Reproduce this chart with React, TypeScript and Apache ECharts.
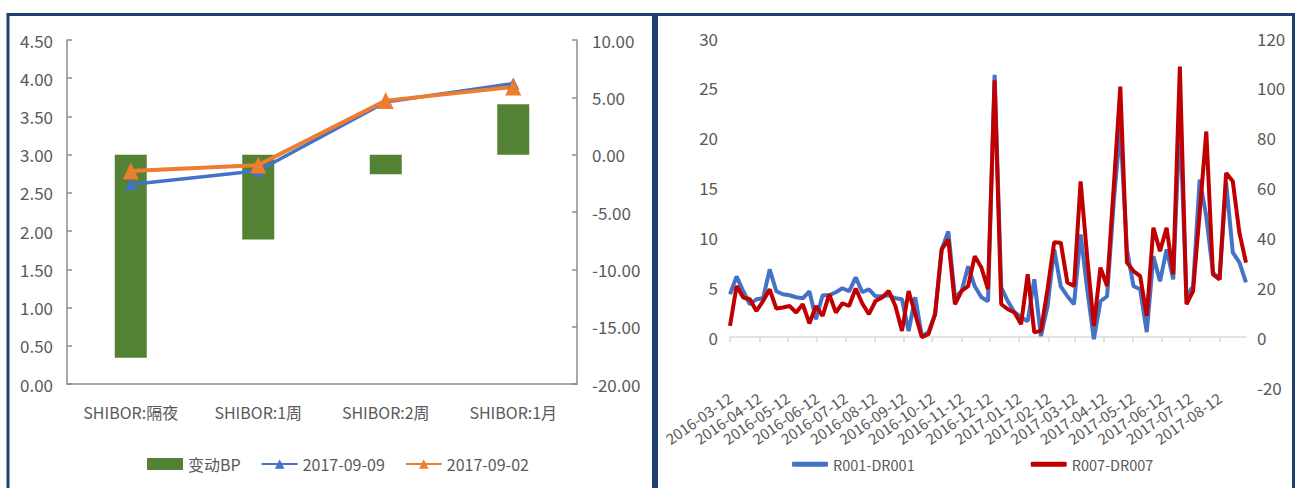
import React, { useEffect, useRef } from 'react';
import * as echarts from 'echarts';

// Left panel: SHIBOR term rates on two dates and the weekly change in BP
const shiborTerms = ['SHIBOR:隔夜', 'SHIBOR:1周', 'SHIBOR:2周', 'SHIBOR:1月'];
const rate0909 = [2.61, 2.79, 3.69, 3.93];
const rate0902 = [2.787, 2.864, 3.707, 3.886];
const changeBP = [-17.7, -7.4, -1.7, 4.4];

// Right panel: weekly repo spreads (bp), first observation on 2016-03-12
const firstWeek = '2016-03-12';
const monthTicks = [
  '2016-03-12', '2016-04-12', '2016-05-12', '2016-06-12', '2016-07-12', '2016-08-12',
  '2016-09-12', '2016-10-12', '2016-11-12', '2016-12-12', '2017-01-12', '2017-02-12',
  '2017-03-12', '2017-04-12', '2017-05-12', '2017-06-12', '2017-07-12', '2017-08-12',
];
const r001 = [
  4.3, 6.1, 4.6, 3.3, 3.8, 3.9, 6.8, 4.6, 4.3, 4.2,
  4.0, 3.9, 4.6, 1.8, 4.2, 4.2, 4.5, 4.9, 4.6, 6.0,
  4.5, 4.8, 4.1, 4.1, 4.2, 3.9, 3.8, 0.6, 4.0, 0.1,
  0.5, 2.3, 8.8, 10.6, 4.0, 4.6, 7.1, 5.1, 4.0, 3.6,
  26.3, 5.0, 3.6, 2.5, 2.0, 1.6, 5.8, 0.1, 3.1, 8.8,
  5.1, 4.1, 3.3, 10.3, 4.8, -0.2, 3.6, 4.1, 13.5, 21.0,
  8.8, 5.1, 4.8, 0.5, 8.1, 5.6, 8.8, 5.8, 22.0, 4.1,
  5.1, 15.8, 12.1, 6.5, 5.8, 15.5, 8.5, 7.5, 5.5,
];
const r007 = [
  4.5, 20.5, 15.9, 15.2, 10.5, 14.5, 19.2, 11.5, 11.9, 12.5,
  9.9, 13.2, 5.5, 12.5, 8.5, 17.2, 9.9, 13.6, 12.5, 19.5,
  13.5, 9.2, 14.5, 15.9, 18.5, 12.5, 2.5, 18.5, 9.2, 0.0,
  1.2, 9.2, 35.2, 39.2, 13.2, 18.5, 20.5, 32.5, 27.9, 19.2,
  103, 13.2, 11.2, 9.9, 5.2, 25.2, 1.9, 2.5, 19.2, 38.1,
  37.9, 21.9, 20.5, 62.5, 32, 4.5, 27.9, 20.5, 60, 100.5,
  29.9, 26.5, 24.5, 8.5, 43.9, 34.5, 43.9, 25.2, 108.5, 13.2,
  18.5, 50, 82.5, 25.2, 23.2, 65.9, 62.5, 41.9, 29.9,
];

// The date axis is measured in days since the first observation
const DAY = 86400000;
const toTs = (s: string) => {
  const [y, m, d] = s.split('-').map(Number);
  return Date.UTC(y, m - 1, d);
};
const t0 = toTs(firstWeek);
const pad = (n: number) => (n < 10 ? '0' + n : '' + n);
const dayLabel = (day: number) => {
  const d = new Date(t0 + Math.round(day) * DAY);
  return d.getUTCFullYear() + '-' + pad(d.getUTCMonth() + 1) + '-' + pad(d.getUTCDate());
};
const weekDays = r001.map((_, i) => i * 7);
const monthDays = monthTicks.map((s) => Math.round((toTs(s) - t0) / DAY));

const FONT = "'Noto Sans CJK SC', 'Noto Sans', sans-serif";
const LABEL = '#595959';
const FRAME = '#1f3f6e';

export default function App() {
  const ref = useRef<HTMLDivElement>(null);

  useEffect(() => {
    if (!ref.current) return;
    const chart = echarts.init(ref.current, undefined, { renderer: 'svg' });
    const axisGray = { color: '#8c8c8c', width: 1.5 };
    const labelStyle = { color: LABEL, fontSize: 16, fontFamily: FONT };

    chart.setOption({
      animation: false,
      backgroundColor: '#ffffff',
      textStyle: { fontFamily: FONT },
      graphic: [
        {
          type: 'rect', silent: true, z: 100,
          shape: { x: 8, y: 14.5, width: 645.5, height: 490 },
          style: { fill: 'none', stroke: FRAME, lineWidth: 3 },
        },
        {
          type: 'rect', silent: true, z: 100,
          shape: { x: 656.5, y: 14.5, width: 637, height: 490 },
          style: { fill: 'none', stroke: FRAME, lineWidth: 3 },
        },
      ],
      legend: [
        {
          left: 142, top: 451,
          itemWidth: 36, itemHeight: 12, itemGap: 20,
          textStyle: { ...labelStyle, fontSize: 16 },
          data: [
            { name: '变动BP', icon: 'rect' },
            { name: '2017-09-09' },
            { name: '2017-09-02' },
          ],
        },
        {
          left: 787, top: 452,
          itemWidth: 36, itemHeight: 5, itemGap: 116,
          textStyle: { ...labelStyle, fontSize: 14.5 },
          data: [
            { name: 'R001-DR001', icon: 'roundRect' },
            { name: 'R007-DR007', icon: 'roundRect' },
          ],
        },
      ],
      grid: [
        { left: 67, top: 40, width: 510, height: 344 },
        { left: 730, top: 38, width: 516, height: 349 },
      ],
      xAxis: [
        {
          type: 'category', gridIndex: 0, data: shiborTerms,
          axisLine: { lineStyle: axisGray },
          axisTick: { inside: true, length: 5, lineStyle: axisGray },
          axisLabel: { ...labelStyle, fontSize: 16, margin: 20 },
        },
        {
          type: 'value', gridIndex: 1,
          min: 0, max: weekDays[weekDays.length - 1],
          axisLine: { onZero: true, lineStyle: { color: '#d9d9d9', width: 1.5 } },
          axisTick: { show: true, customValues: monthDays, length: 5, lineStyle: { color: '#d9d9d9', width: 1.5 } },
          axisLabel: {
            customValues: monthDays, rotate: 35, margin: 9,
            hideOverlap: false, showMinLabel: true, showMaxLabel: true,
            ...labelStyle, fontSize: 15,
            formatter: (v: number) => dayLabel(v),
          },
          splitLine: { show: false },
        },
      ],
      yAxis: [
        {
          type: 'value', gridIndex: 0, min: 0, max: 4.5, interval: 0.5,
          axisLine: { show: true, lineStyle: axisGray },
          axisTick: { show: true, inside: true, length: 5, lineStyle: axisGray },
          axisLabel: { ...labelStyle, fontSize: 17, margin: 14, formatter: (v: number) => v.toFixed(2) },
          splitLine: { show: false },
        },
        {
          type: 'value', gridIndex: 0, position: 'right', min: -20, max: 10, interval: 5,
          axisLine: { show: true, lineStyle: axisGray },
          axisTick: { show: true, inside: true, length: 5, lineStyle: axisGray },
          axisLabel: { ...labelStyle, fontSize: 17, margin: 15, formatter: (v: number) => v.toFixed(2) },
          splitLine: { show: false },
        },
        {
          type: 'value', gridIndex: 1, min: -5, max: 30, interval: 5,
          axisLine: { show: false }, axisTick: { show: false },
          axisLabel: { ...labelStyle, fontSize: 17, margin: 12, formatter: (v: number) => (v < 0 ? '' : String(v)) },
          splitLine: { show: false },
        },
        {
          type: 'value', gridIndex: 1, position: 'right', min: -20, max: 120, interval: 20,
          axisLine: { show: false }, axisTick: { show: false },
          axisLabel: { ...labelStyle, fontSize: 17, margin: 11 },
          splitLine: { show: false },
        },
      ],
      series: [
        {
          name: '变动BP', type: 'bar', xAxisIndex: 0, yAxisIndex: 1,
          data: changeBP, barWidth: 32,
          itemStyle: { color: '#548235' },
        },
        {
          name: '2017-09-09', type: 'line', xAxisIndex: 0, yAxisIndex: 0,
          data: rate0909, symbol: 'triangle', symbolSize: [12, 12],
          lineStyle: { color: '#4472c4', width: 3.5 },
          itemStyle: { color: '#4472c4' },
        },
        {
          name: '2017-09-02', type: 'line', xAxisIndex: 0, yAxisIndex: 0,
          data: rate0902, symbol: 'triangle', symbolSize: [16, 17],
          lineStyle: { color: '#ed7d31', width: 4 },
          itemStyle: { color: '#ed7d31' },
        },
        {
          name: 'R001-DR001', type: 'line', xAxisIndex: 1, yAxisIndex: 2,
          data: weekDays.map((d, i) => [d, r001[i]]),
          symbol: 'none',
          lineStyle: { color: '#4472c4', width: 4 },
          itemStyle: { color: '#4472c4' },
        },
        {
          name: 'R007-DR007', type: 'line', xAxisIndex: 1, yAxisIndex: 3,
          data: weekDays.map((d, i) => [d, r007[i]]),
          symbol: 'none',
          lineStyle: { color: '#c00000', width: 4 },
          itemStyle: { color: '#c00000' },
        },
      ],
    });

    return () => chart.dispose();
  }, []);

  return (
    <div
      ref={ref}
      style={{ position: 'absolute', left: 0, top: 0, width: 1300, height: 488 }}
    />
  );
}
